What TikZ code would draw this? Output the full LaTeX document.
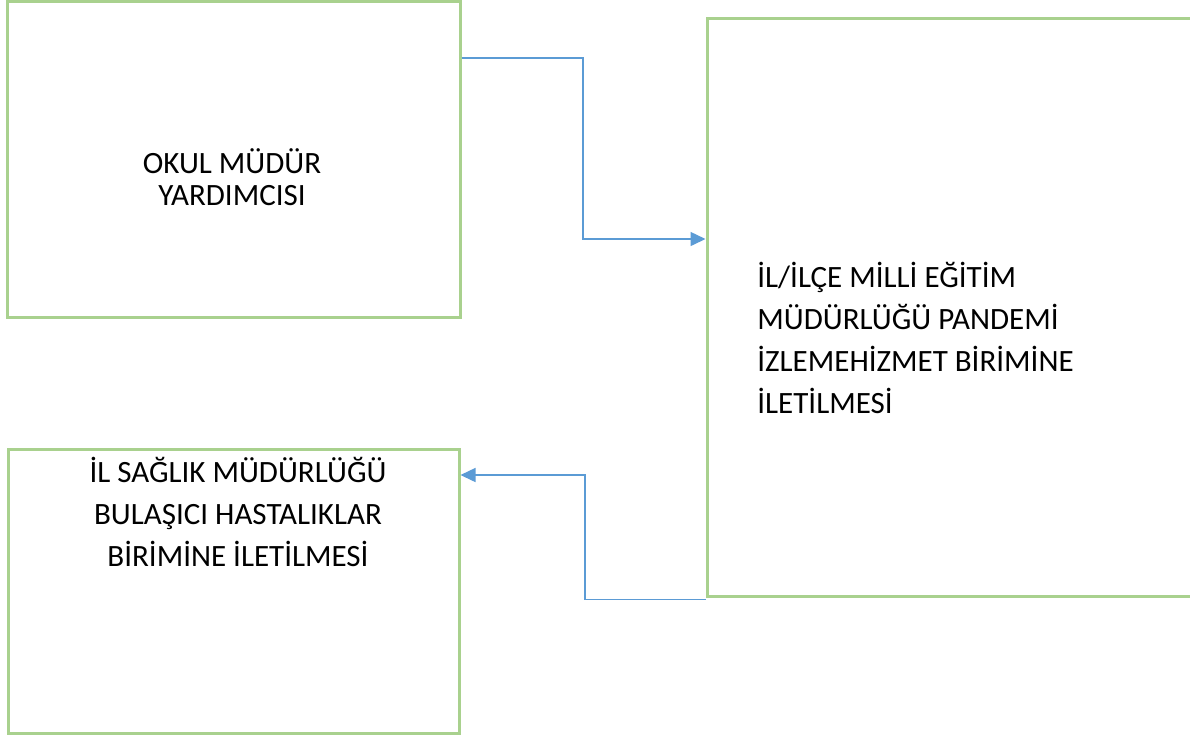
\documentclass[tikz,border=0pt]{standalone}
\usepackage{fontspec}
\setmainfont{Carlito}
\definecolor{BoxGreen}{RGB}{169, 209, 142}
\definecolor{FlowBlue}{RGB}{91, 155, 213}
\usetikzlibrary{arrows.meta, positioning}

\tikzset{
    box/.style={draw=BoxGreen, line width=1.5pt, inner sep=0pt},
    flow/.style={draw=FlowBlue, line width=0.75pt, -{Triangle[length=7.5pt, width=7pt]}},
    boxtext/.style={font=\fontsize{15.5}{21}\selectfont, inner sep=0pt}
}

\begin{document}
\begin{tikzpicture}[x=0.5pt, y=-0.5pt]
                \clip (0,0) rectangle (1190,736);
                \fill[white] (0,0) rectangle (1190,736);

                % Boxes
                \node[box, minimum width=226.5pt, minimum height=158pt] (mudur) at (233.5,159) {};
                \node[box, minimum width=266.5pt, minimum height=289pt] (meb) at (973.5,307) {};
                \node[box, minimum width=225.5pt, minimum height=142pt] (saglik) at (233.5,591) {};

                % Labels
                \node[boxtext, font=\fontsize{15.5}{16}\selectfont, align=center] (mudurtext) at (232,177) {OKUL MÜDÜR\\YARDIMCISI};
                \node[boxtext, align=left, anchor=west] (mebtext) at (757,338) {İL/İLÇE MİLLİ EĞİTİM\\MÜDÜRLÜĞÜ PANDEMİ\\İZLEMEHİZMET BİRİMİNE\\İLETİLMESİ};
                \node[boxtext, align=center] (sagliktext) at (238,512) {İL SAĞLIK MÜDÜRLÜĞÜ\\BULAŞICI HASTALIKLAR\\BİRİMİNE İLETİLMESİ};

                % Connectors
                \draw[flow] (mudur.north east |- 0,58) -- (583,58) |- (meb.west |- 0,239);
                \draw[flow] ([yshift=-1pt]meb.south west) -| (585,475) -- (saglik.east |- 0,475);
            \end{tikzpicture}
\end{document}
